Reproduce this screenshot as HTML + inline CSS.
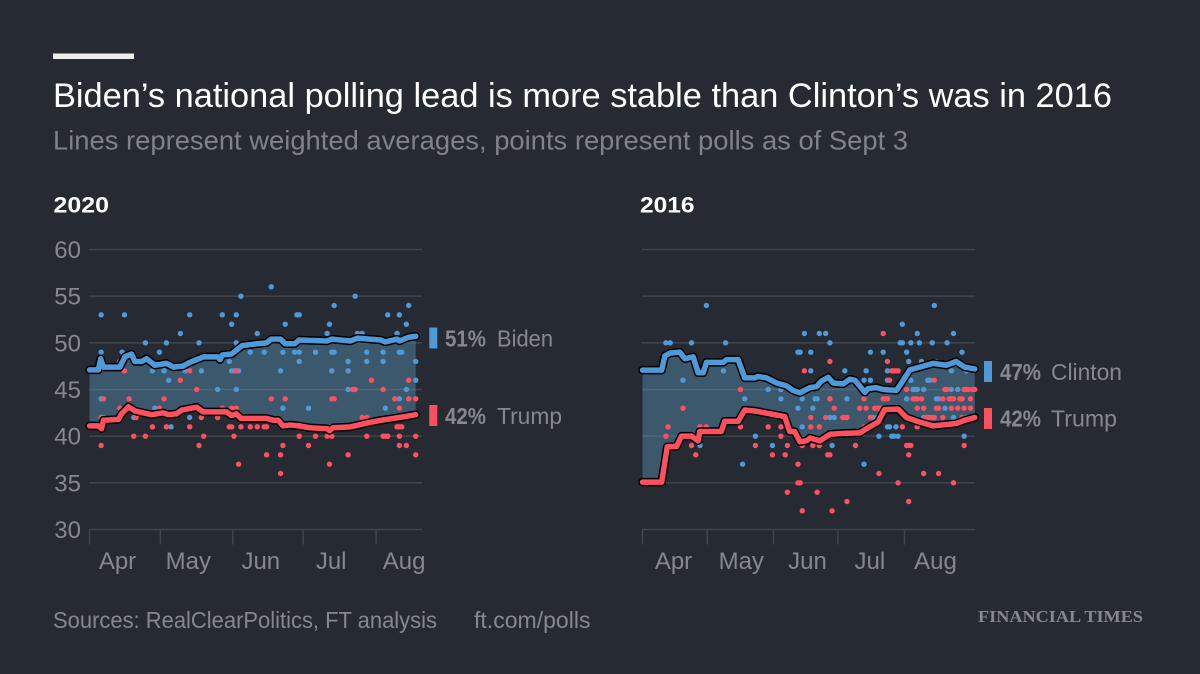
<!DOCTYPE html>
<html lang="en">
<head>
<meta charset="utf-8">
<title>Biden's national polling lead</title>
<style>
html,body{margin:0;padding:0;background:#262a33;}
svg{display:block;}
text{font-family:"Liberation Sans",sans-serif;}
</style>
</head>
<body>
<svg id="chart" xmlns="http://www.w3.org/2000/svg" width="1200" height="674" viewBox="0 0 1200 674">
  <rect x="0" y="0" width="1200" height="674" fill="#262a33"/>
  <rect x="53" y="53.5" width="81" height="5.5" fill="#ededed"/>
  <text x="53" y="107" font-size="34" fill="#ffffff" textLength="1059" lengthAdjust="spacingAndGlyphs">Biden’s national polling lead is more stable than Clinton’s was in 2016</text>
  <text x="53" y="149.5" font-size="27" fill="#7f8289" textLength="855" lengthAdjust="spacingAndGlyphs">Lines represent weighted averages, points represent polls as of Sept 3</text>
  <text x="53.5" y="212.5" font-size="22" font-weight="bold" fill="#ffffff" textLength="55.5" lengthAdjust="spacingAndGlyphs">2020</text>
  <text x="640" y="212.5" font-size="22" font-weight="bold" fill="#ffffff" textLength="54.5" lengthAdjust="spacingAndGlyphs">2016</text>
  <g id="panel-2020"></g>
  <g id="panel-2016"></g>

  <rect x="429.3" y="327.5" width="8" height="21" fill="#4e9ad8"/>
  <text x="445" y="346.5" font-size="23" font-weight="bold" fill="#85888e" textLength="41" lengthAdjust="spacingAndGlyphs">51%</text>
  <text x="497" y="346.5" font-size="23" fill="#85888e" textLength="56" lengthAdjust="spacingAndGlyphs">Biden</text>
  <rect x="429.3" y="405" width="8" height="21" fill="#ff5060"/>
  <text x="445" y="424" font-size="23" font-weight="bold" fill="#85888e" textLength="41" lengthAdjust="spacingAndGlyphs">42%</text>
  <text x="497" y="424" font-size="23" fill="#85888e" textLength="65" lengthAdjust="spacingAndGlyphs">Trump</text>
  <rect x="984" y="361" width="8" height="21" fill="#4e9ad8"/>
  <text x="1000" y="380" font-size="23" font-weight="bold" fill="#85888e" textLength="41" lengthAdjust="spacingAndGlyphs">47%</text>
  <text x="1051" y="380" font-size="23" fill="#85888e" textLength="71" lengthAdjust="spacingAndGlyphs">Clinton</text>
  <rect x="984" y="408" width="8" height="21" fill="#ff5060"/>
  <text x="1000" y="426.5" font-size="23" font-weight="bold" fill="#85888e" textLength="41" lengthAdjust="spacingAndGlyphs">42%</text>
  <text x="1051" y="426.5" font-size="23" fill="#85888e" textLength="66" lengthAdjust="spacingAndGlyphs">Trump</text>

  <text x="53" y="628" font-size="23" fill="#85888e" textLength="384" lengthAdjust="spacingAndGlyphs">Sources: RealClearPolitics, FT analysis</text>
  <text x="474" y="628" font-size="23" fill="#85888e" textLength="116.5" lengthAdjust="spacingAndGlyphs">ft.com/polls</text>
  <text x="978" y="622" font-size="17" font-weight="bold" fill="#85888e" style="font-family:'Liberation Serif',serif" textLength="165" lengthAdjust="spacingAndGlyphs">FINANCIAL TIMES</text>
</svg>
<script>
const yTicks = [60, 55, 50, 45, 40, 35, 30];
const monthLabels = ['Apr', 'May', 'Jun', 'Jul', 'Aug'];
const monthDays = [0, 30.4, 61.5, 91.7, 123];

const biden2020Line = [[0,47.1],[3.8,47.1],[4.8,48.3],[5.9,47.4],[13,47.4],[15.2,48.5],[18,48.8],[19.5,48],[22.4,48],[24.5,48.3],[28,47.6],[33,47.8],[36,47.4],[40,47.5],[43,47.9],[49,48.5],[55,48.5],[56,48.2],[57,48.7],[61,48.8],[65.5,49.7],[72,49.9],[76,50],[78,50.4],[82,50.4],[84,49.9],[88,49.9],[90,50.3],[102,50.2],[104,50.4],[112,50.2],[115,50.5],[125,50.3],[127,50.1],[132,50.4],[133,50.2],[137,50.6],[140,50.7]];
const trump2020Line = [[0,41.1],[3.8,41.1],[5.2,40.8],[6,41.7],[12.4,41.8],[13.8,42.4],[16.7,43.15],[19.5,42.7],[23,42.5],[26.7,42.3],[31.7,42.5],[33.8,42.3],[37.4,42.4],[39.6,42.8],[46,43.1],[48.8,42.6],[58.9,42.6],[61,42.2],[63,42.4],[65,41.9],[76,41.9],[79,41.7],[81,41.7],[83,41.1],[86,41.2],[90,41.1],[94.6,40.9],[102,40.8],[103,40.6],[104.5,40.9],[112,41],[119,41.4],[125,41.7],[133,42],[140,42.3]];
const clinton2016Line = [[0,47.07],[9,47.07],[10.5,48.6],[12.9,48.9],[17.5,49],[19.9,48.3],[23.8,48.5],[26.1,46.8],[28.5,46.8],[30,47.9],[37.9,47.9],[39.4,48.2],[44.9,48.2],[48,46.25],[52.7,46.25],[54.3,46.4],[58.2,46.25],[62.9,45.7],[67.5,45.4],[70.7,44.9],[73.9,44.65],[78.6,45.2],[81.7,45.3],[84,45.9],[87.2,46.3],[89.5,45.7],[94.2,45.6],[97.3,46.1],[99.7,46],[104.4,44.7],[105.9,45.1],[109.8,45.2],[113,45],[119.2,44.9],[121.6,45.7],[125.5,47.1],[130.2,47.4],[136.4,47.8],[142.7,47.6],[147.3,48],[151.2,47.4],[156,47.2]];
const trump2016Line = [[0,35.07],[9,35.07],[11.6,38.85],[16,38.9],[18.3,40],[23,40],[26.1,39.5],[26.9,40.5],[37,40.5],[38.6,41.6],[44.9,41.6],[48,42.8],[52.7,42.7],[59.7,42.4],[66.8,42.1],[69.1,40.5],[71.4,40.5],[73.9,39.4],[77,39.5],[78.6,39.8],[83.3,39.5],[88,40.2],[94.2,40.3],[102,40.35],[106.7,41],[110.6,41.5],[113.7,42.85],[120,42.9],[123.9,42],[130.2,41.5],[136.4,41.1],[142.7,41.25],[147.3,41.35],[151.2,41.7],[156,42]];

const biden2020Polls = [[78,56],[65,55],[114,55],[105,54],[137,54],[5,53],[15,53],[43,53],[57,53],[63,53],[89,53],[90,53],[128,53],[133,53],[61,52],[84,52],[103,52],[136,52],[39,51],[72,51],[102,51],[115,51],[117,51],[132,51],[24,50],[33,50],[47,50],[63,50],[5,49],[14,49],[30,49],[69,49],[75,49],[83,49],[88,49],[90,49],[97,49],[104,49],[105,49],[119,49],[126,49],[133,49],[134,49],[13,48],[60,48],[90,48],[111,48],[119,48],[126,48],[140,48],[27,47],[32,47],[41,47],[48,47],[61,47],[62,47],[63,47],[64,47],[82,47],[104,47],[111,47],[34,46],[140,46],[55,45],[63,45],[111,45],[136,45],[5,44],[133,44],[28,43],[83,43],[94,43],[127,43],[6,42],[19,42],[43,42],[35,41]];
const trump2020Polls = [[15,47],[43,47],[63,47],[39,46],[121,46],[137,46],[46,45],[113,45],[114,45],[126,45],[6,44],[17,44],[32,44],[78,44],[84,44],[104,44],[105,44],[131,44],[137,44],[140,44],[13,43],[30,43],[57,43],[61,43],[63,43],[133,43],[5,42],[20,42],[48,42],[55,42],[117,42],[119,42],[27,41],[33,41],[43,41],[60,41],[61,41],[65,41],[69,41],[72,41],[75,41],[76,41],[132,41],[133,41],[134,41],[19,40],[24,40],[49,40],[62,40],[90,40],[97,40],[102,40],[104,40],[119,40],[126,40],[127,40],[128,40],[133,40],[140,40],[5,39],[47,39],[83,39],[94,39],[133,39],[136,39],[76,38],[82,38],[111,38],[140,38],[64,37],[103,37],[82,36]];
const clinton2016Polls = [[30,54],[137,54],[122,52],[76,51],[83,51],[86,51],[129,51],[146,51],[11,50],[13,50],[23,50],[39,50],[88,50],[121,50],[122,50],[126,50],[130,50],[136,50],[143,50],[73,49],[79,49],[74,49],[107,49],[113,49],[124,49],[150,49],[125,48],[131,48],[138,48],[79,47],[38,47],[95,47],[105,47],[115,47],[145,47],[152,47],[19,46],[104,46],[107,46],[115,46],[126,46],[134,46],[135,46],[59,45],[65,45],[127,45],[128,45],[129,45],[132,45],[145,45],[148,45],[48,44],[65,44],[75,44],[81,44],[82,44],[88,44],[96,44],[124,44],[138,44],[139,44],[73,43],[80,43],[142,43],[68,42],[88,42],[90,42],[108,42],[110,42],[132,42],[146,42],[75,41],[115,41],[116,41],[119,41],[53,40],[111,40],[117,40],[118,40],[120,40],[151,40],[27,39],[61,39],[89,39],[47,37],[104,37]];
const trump2016Polls = [[113,51],[88,48],[115,48],[76,47],[117,47],[118,47],[119,47],[120,47],[116,46],[137,46],[46,45],[124,45],[142,45],[143,45],[151,45],[152,45],[153,45],[155,45],[156,45],[88,44],[104,44],[113,44],[114,44],[115,44],[127,44],[128,44],[129,44],[131,44],[141,44],[144,44],[145,44],[146,44],[149,44],[150,44],[154,44],[19,43],[48,43],[90,43],[102,43],[105,43],[109,43],[110,43],[111,43],[112,43],[129,43],[132,43],[138,43],[139,43],[145,43],[148,43],[151,43],[154,43],[79,42],[86,42],[94,42],[95,42],[96,42],[107,42],[133,42],[134,42],[135,42],[136,42],[137,42],[141,42],[150,42],[152,42],[12,41],[27,41],[30,41],[46,41],[59,41],[65,41],[79,41],[83,41],[104,41],[122,41],[129,41],[11,40],[65,40],[23,39],[53,39],[68,39],[75,39],[80,39],[83,39],[100,39],[124,39],[125,39],[126,39],[151,39],[25,38],[61,38],[67,38],[87,38],[88,38],[125,38],[73,37],[111,36],[132,36],[139,36],[73,35],[74,35],[120,35],[146,35],[68,34],[82,34],[96,33],[125,33],[75,32],[89,32]];

const SVG_NS = 'http://www.w3.org/2000/svg';
const BLUE = '#4e9ad8';
const RED = '#ff5060';

function yScale(value) {
  return 249.5 + (60 - value) * 9.333;
}

function make(parent, tag, attrs) {
  const el = document.createElementNS(SVG_NS, tag);
  for (const key in attrs) el.setAttribute(key, attrs[key]);
  parent.appendChild(el);
  return el;
}

function toPoints(series, xScale) {
  return series.map(function (p) {
    return xScale(p[0]).toFixed(2) + ',' + yScale(p[1]).toFixed(2);
  });
}

function drawPanel(cfg) {
  const g = document.getElementById(cfg.id);
  const xScale = function (day) { return cfg.x0 + day * cfg.pxPerDay; };

  yTicks.forEach(function (tick) {
    const line = make(g, 'line', { x1: cfg.axisStart, x2: cfg.axisEnd, y1: yScale(tick), y2: yScale(tick), stroke: '#41454c', 'stroke-width': 1.5 });
    
    
    if (cfg.showYLabels) {
      const label = make(g, 'text', { x: 81, y: yScale(tick) + 8.5, 'text-anchor': 'end', 'font-size': 24, fill: '#85888e' });
      
      
      label.textContent = tick;
    }
  });

  monthDays.forEach(function (day, i) {
    const tx = xScale(day);
    const tickMark = make(g, 'line', { x1: tx, x2: tx, y1: yScale(30), y2: yScale(30) + 15, stroke: '#41454c', 'stroke-width': 1.5 });
    
    
    const label = make(g, 'text', { x: tx + cfg.labelOffsets[i], y: 569, 'text-anchor': 'middle', 'font-size': 24, fill: '#85888e' });
    
    
    label.textContent = monthLabels[i];
  });

  const areaPoints = toPoints(cfg.upperLine, xScale).concat(toPoints(cfg.lowerLine, xScale).reverse());
  const area = make(g, 'polygon', { points: areaPoints.join(' '), fill: 'rgb(93,157,196)', 'fill-opacity': 0.4 });
  
  

  cfg.upperPolls.forEach(function (p) {
    const dot = make(g, 'circle', { cx: xScale(p[0]), cy: yScale(p[1]), r: 2.7, fill: BLUE });
    
    
  });
  cfg.lowerPolls.forEach(function (p) {
    const dot = make(g, 'circle', { cx: xScale(p[0]), cy: yScale(p[1]), r: 2.7, fill: RED });
    
    
  });

  [[cfg.upperLine, BLUE, cfg.upperName], [cfg.lowerLine, RED, cfg.lowerName]].forEach(function (s) {
    const pts = toPoints(s[0], xScale).join(' ');
    const halo = make(g, 'polyline', { points: pts, fill: 'none', stroke: '#000000', 'stroke-width': 8.5, 'stroke-linecap': 'round', 'stroke-linejoin': 'round' });
    
    
    const line = make(g, 'polyline', { points: pts, fill: 'none', stroke: s[1], 'stroke-width': 5.5, 'stroke-linecap': 'round', 'stroke-linejoin': 'round' });
    
    
  });
}

drawPanel({
  id: 'panel-2020', x0: 89.5, pxPerDay: 2.33, axisStart: 89, axisEnd: 422, showYLabels: true,
  labelOffsets: [28, 28, 28, 28, 28],
  upperLine: biden2020Line, lowerLine: trump2020Line,
  upperPolls: biden2020Polls, lowerPolls: trump2020Polls,
  upperName: 'biden', lowerName: 'trump-2020'
});
drawPanel({
  id: 'panel-2016', x0: 642.5, pxPerDay: 2.13, axisStart: 642, axisEnd: 975, showYLabels: false,
  labelOffsets: [31, 34, 34, 32, 31],
  upperLine: clinton2016Line, lowerLine: trump2016Line,
  upperPolls: clinton2016Polls, lowerPolls: trump2016Polls,
  upperName: 'clinton', lowerName: 'trump-2016'
});
</script>
</body>
</html>
